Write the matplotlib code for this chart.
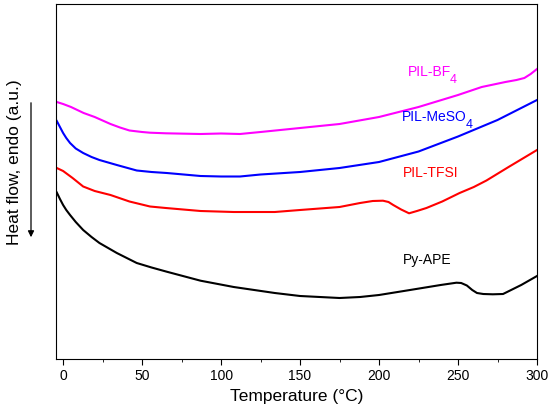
import numpy as np
import matplotlib.pyplot as plt
from matplotlib.ticker import MultipleLocator
from matplotlib.patches import FancyArrowPatch

plt.rcParams['font.family'] = ['Liberation Sans', 'DejaVu Sans']

# DSC curves, heat flow (arbitrary units, endo down)
t_bf4 = [-4, 0, 5, 13, 20, 30, 36, 42, 50, 55, 65, 87, 100, 112, 125, 150, 175, 200,
         225, 250, 265, 280, 287, 292, 296, 300]
hf_bf4 = [102, 104, 107, 113, 117, 124, 127.5, 130.5, 132, 132.7, 133.3, 134, 133.5, 134,
          132, 128, 124, 117, 107, 95, 87, 82, 80, 78, 74, 69]

t_meso4 = [-4, -2, 0, 2, 4.4, 8, 12.7, 18, 23, 34, 46.6, 56, 65.6, 87, 100, 112, 125,
           150, 175, 200, 225, 250, 275, 300]
hf_meso4 = [121, 127, 133, 138, 143, 148.5, 153, 157, 160, 165, 170.5, 172, 173, 176,
            176.5, 176.5, 174.5, 172, 168, 162, 151.5, 136.5, 120, 100]

t_tfsi = [-4, 0, 6, 12.7, 20, 30, 42, 55, 65, 87, 108, 134, 150, 175, 188, 196, 202.5,
          206, 209, 214, 219, 224, 230, 240, 251, 260, 268, 282, 300]
hf_tfsi = [168, 171, 178, 186.5, 191, 195, 201.5, 206.5, 208, 211, 212, 212, 210, 207,
           203, 201, 200.7, 202, 205, 209.5, 213.3, 211, 208, 201.5, 193, 187, 180.5,
           167, 150]

t_ape = [-4, -2, 0, 2, 4.4, 8, 12.7, 18, 23, 34, 46.6, 56, 65.6, 87, 108, 134, 150,
         175, 188, 200, 219.6, 239, 249, 252, 255.6, 259, 262, 266, 272, 278.5, 290, 300]
hf_ape = [192.5, 199, 205, 210, 215, 222, 230, 237, 243, 253, 263, 267.5, 271.7, 280.7,
          287, 293, 296, 298, 297, 295, 290, 285, 282.7, 283, 285.5, 290, 293, 294,
          294.3, 294, 285, 276]

fig = plt.figure(figsize=(5.5, 4.18), dpi=100)
ax = fig.add_axes([56 / 550, 1 - 359 / 418, 481 / 550, 355 / 418])

ax.plot(t_bf4, hf_bf4, color='#ff00ff', lw=1.5)
ax.plot(t_meso4, hf_meso4, color='#0000ff', lw=1.5)
ax.plot(t_tfsi, hf_tfsi, color='#ff0000', lw=1.5)
ax.plot(t_ape, hf_ape, color='black', lw=1.5)

# curve labels, subscript drawn as its own text so it stays near full size
lab = ax.text(218.3, 75.7, 'PIL-BF', color='#ff00ff', fontsize=10, ha='left', va='baseline')
ax.annotate('4', xy=(1, 0), xycoords=lab, xytext=(-0.8, -3.2), textcoords='offset points',
            color='#ff00ff', fontsize=9, va='baseline')
lab = ax.text(214.3, 120.7, 'PIL-MeSO', color='#0000ff', fontsize=10, ha='left', va='baseline')
ax.annotate('4', xy=(1, 0), xycoords=lab, xytext=(-0.8, -3.2), textcoords='offset points',
            color='#0000ff', fontsize=9, va='baseline')
ax.text(233, 173, 'PIL-TFSI', color='#ff0000', fontsize=10, ha='center', va='center')
ax.text(230.5, 260, 'Py-APE', color='black', fontsize=10, ha='center', va='center')

ax.set_xlim(-4.5, 300)
ax.set_ylim(359, 4)
ax.xaxis.set_major_locator(MultipleLocator(50))
ax.xaxis.set_minor_locator(MultipleLocator(25))
ax.tick_params(axis='x', direction='out', labelsize=10, length=4)
ax.tick_params(axis='x', which='minor', direction='out', length=2.5)
ax.set_yticks([])
ax.set_xlabel('Temperature (\u00b0C)', fontsize=12.5)

fig.text(15 / 550, 1 - 162 / 418, 'Heat flow, endo (a.u.)', rotation=90, fontsize=12.5,
         ha='center', va='center')
fig.add_artist(FancyArrowPatch(
    (31 / 550, 1 - 100 / 418), (31 / 550, 1 - 240 / 418), transform=fig.transFigure,
    arrowstyle='-|>', mutation_scale=9, color='black', lw=0.9))

fig.savefig('out.png', dpi=100)
